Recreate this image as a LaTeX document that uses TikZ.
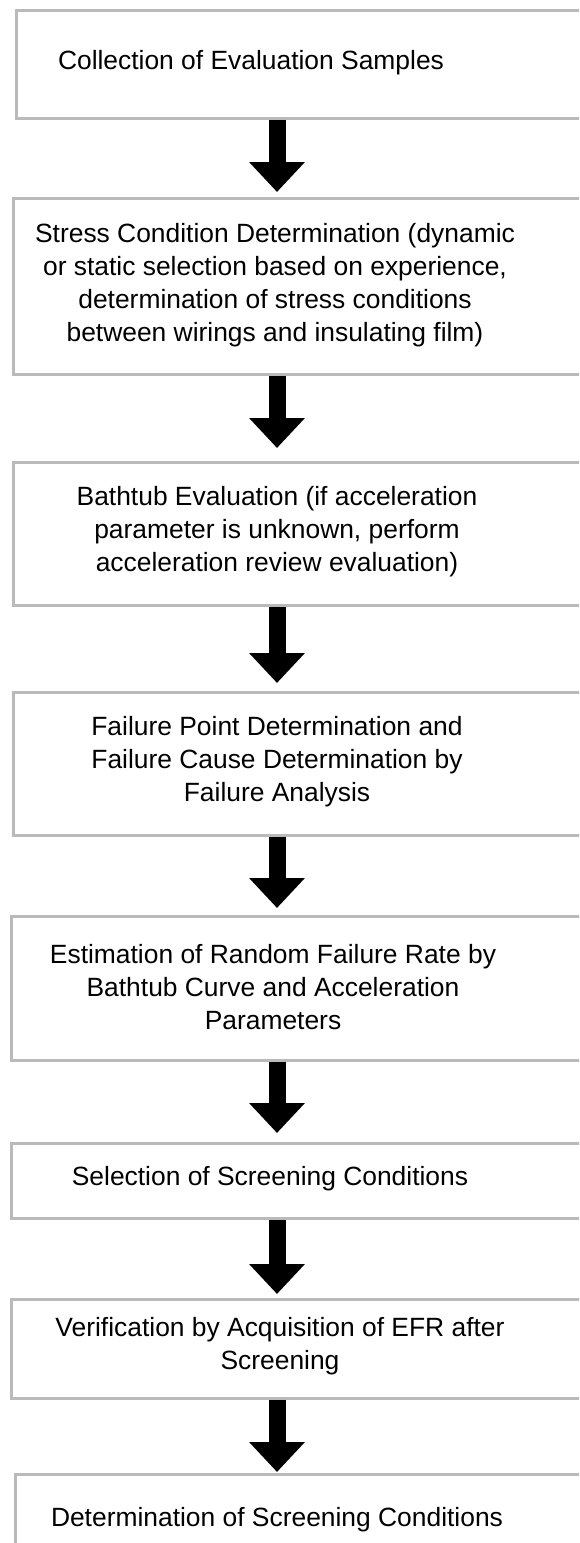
\documentclass[tikz,border=0pt]{standalone}
\usepackage{fontspec}
\setmainfont{Liberation Sans}
\usetikzlibrary{arrows.meta,calc}
\tikzset{
  stepbox/.style={draw=black!27, line width=2.5pt, fill=white, rectangle, anchor=north west, minimum width=620pt, inner sep=0pt},
  steptext/.style={align=center, font=\fontsize{26.4pt}{33pt}\selectfont, text=black, inner sep=0pt},
  bigarrow/.style={draw=black, line width=17pt, -{Triangle[width=54pt,length=30pt]}}
}
\begin{document}
\begin{tikzpicture}[x=1pt,y=-1pt]
\useasboundingbox (0,0) rectangle (579,1543);
\clip (0,0) rectangle (579,1543);
\fill[white] (0,0) rectangle (579,1543);
\coordinate (ax) at (277,0);
% boxes
\node[stepbox, minimum height=108pt] (b1) at (15,9) {};
\node[stepbox, minimum height=176pt] (b2) at (12,197) {};
\node[stepbox, minimum height=143pt] (b3) at (12,461) {};
\node[stepbox, minimum height=143pt] (b4) at (12,691) {};
\node[stepbox, minimum height=144pt] (b5) at (10,915) {};
\node[stepbox, minimum height=75pt] (b6) at (10,1142) {};
\node[stepbox, minimum height=99pt] (b7) at (10,1298) {};
\node[stepbox, minimum height=120pt] (b8) at (14,1473) {};
% texts
\node[steptext] (t1) at (251,63) {Collection of Evaluation Samples};
\node[steptext] (t2) at (275,285) {Stress Condition Determination (dynamic\\or static selection based on experience,\\determination of stress conditions\\between wirings and insulating film)};
\node[steptext] (t3) at (277,532) {Bathtub Evaluation (if acceleration\\parameter is unknown, perform\\acceleration review evaluation)};
\node[steptext] (t4) at (277,762) {Failure Point Determination and\\Failure Cause Determination by\\Failure Analysis};
\node[steptext] (t5) at (273,987) {Estimation of Random Failure Rate by\\Bathtub Curve and Acceleration\\Parameters};
\node[steptext] (t6) at (270,1179) {Selection of Screening Conditions};
\node[steptext] (t7) at (280,1346) {Verification by Acquisition of EFR after\\Screening};
\node[steptext] (t8) at (277,1520) {Determination of Screening Conditions};
% arrows
\draw[bigarrow, shorten >=5pt] (b1.south -| ax) -- (b2.north -| ax);
\draw[bigarrow, shorten >=13pt] (b2.south -| ax) -- (b3.north -| ax);
\draw[bigarrow, shorten >=8pt] (b3.south -| ax) -- (b4.north -| ax);
\draw[bigarrow, shorten >=7pt] (b4.south -| ax) -- (b5.north -| ax);
\draw[bigarrow, shorten >=9pt] (b5.south -| ax) -- (b6.north -| ax);
\draw[bigarrow, shorten >=4pt] (b6.south -| ax) -- (b7.north -| ax);
\draw[bigarrow, shorten >=1pt] (b7.south -| ax) -- (b8.north -| ax);
\end{tikzpicture}
\end{document}
